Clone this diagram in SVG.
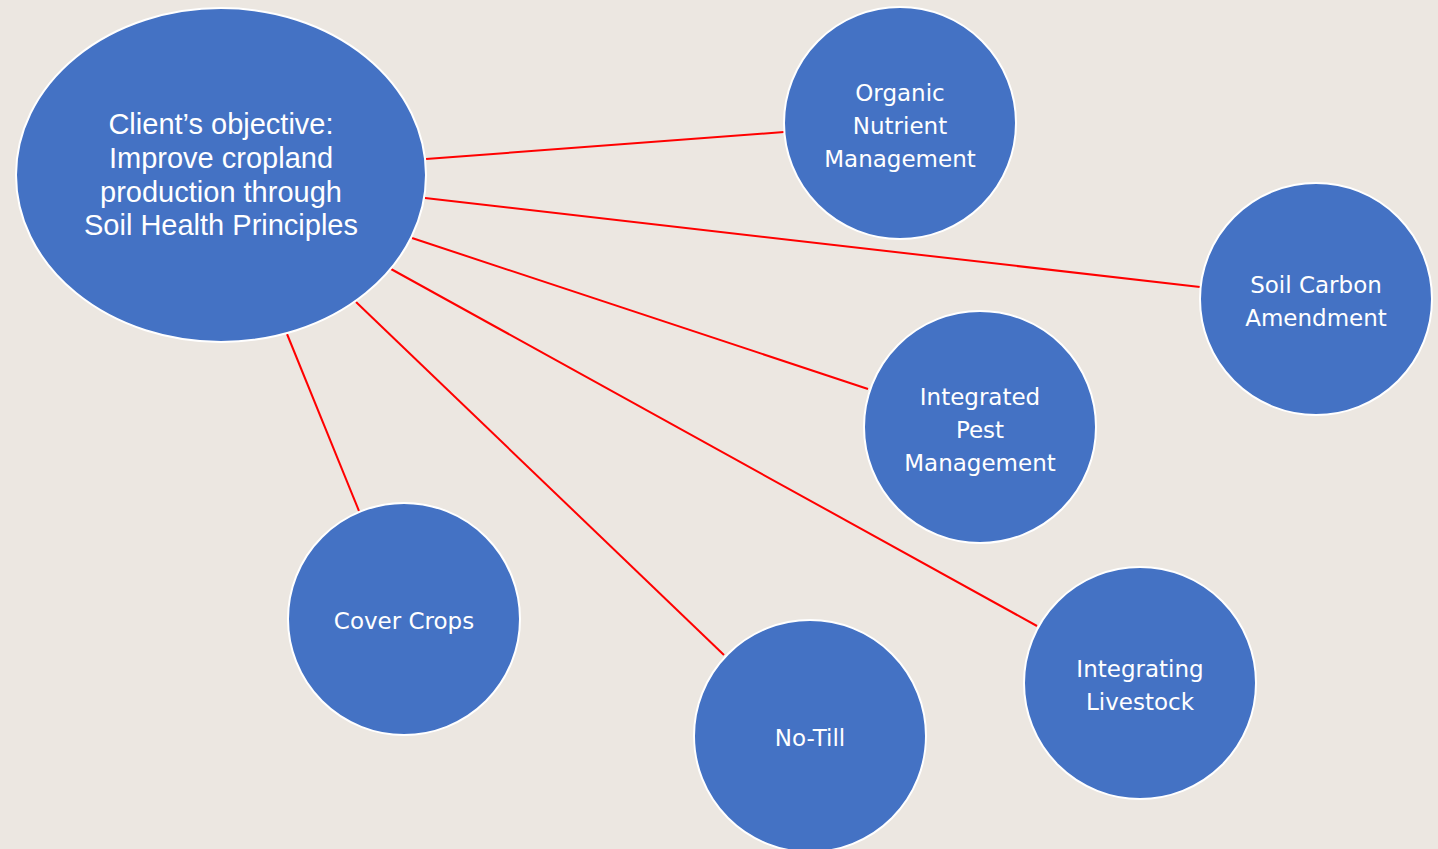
<svg xmlns="http://www.w3.org/2000/svg" width="1438" height="849" viewBox="0 0 1438 849">
  <style>
    .node { fill: #4472C4; stroke: #FFFFFF; stroke-width: 2; }
    .link { stroke: #FF0000; stroke-width: 2; fill: none; }
    .label { fill: #FFFFFF; font-family: "DejaVu Sans", Verdana, sans-serif; font-size: 23px; text-anchor: middle; }
    .title { fill: #FFFFFF; font-family: "Liberation Sans", Arial, sans-serif; font-size: 29px; text-anchor: middle; }
  </style>
  <rect x="0" y="0" width="1438" height="849" fill="#ECE7E1"/>

  <g id="connectors">
    <line class="link" x1="426" y1="159" x2="784" y2="132"/>
    <line class="link" x1="425" y1="198" x2="1200" y2="287"/>
    <line class="link" x1="412" y1="238" x2="868" y2="389"/>
    <line class="link" x1="391" y1="269" x2="1037" y2="626"/>
    <line class="link" x1="356" y1="302" x2="724" y2="655"/>
    <line class="link" x1="287" y1="334" x2="359" y2="511"/>
  </g>

  <g id="objective">
    <ellipse class="node" cx="221" cy="175" rx="205" ry="167"/>
    <text class="title" x="221" y="134">Client’s objective:</text>
    <text class="title" x="221" y="168">Improve cropland</text>
    <text class="title" x="221" y="202">production through</text>
    <text class="title" x="221" y="235">Soil Health Principles</text>
  </g>

  <g id="organic-nutrient">
    <circle class="node" cx="900" cy="123" r="116"/>
    <text class="label" x="900" y="101">Organic</text>
    <text class="label" x="900" y="134">Nutrient</text>
    <text class="label" x="900" y="167">Management</text>
  </g>

  <g id="soil-carbon">
    <circle class="node" cx="1316" cy="299" r="116"/>
    <text class="label" x="1316" y="293">Soil Carbon</text>
    <text class="label" x="1316" y="326">Amendment</text>
  </g>

  <g id="pest-management">
    <circle class="node" cx="980" cy="427" r="116"/>
    <text class="label" x="980" y="405">Integrated</text>
    <text class="label" x="980" y="438">Pest</text>
    <text class="label" x="980" y="471">Management</text>
  </g>

  <g id="livestock">
    <circle class="node" cx="1140" cy="683" r="116"/>
    <text class="label" x="1140" y="677">Integrating</text>
    <text class="label" x="1140" y="710">Livestock</text>
  </g>

  <g id="no-till">
    <circle class="node" cx="810" cy="736" r="116"/>
    <text class="label" x="810" y="746">No-Till</text>
  </g>

  <g id="cover-crops">
    <circle class="node" cx="404" cy="619" r="116"/>
    <text class="label" x="404" y="629">Cover Crops</text>
  </g>
</svg>
